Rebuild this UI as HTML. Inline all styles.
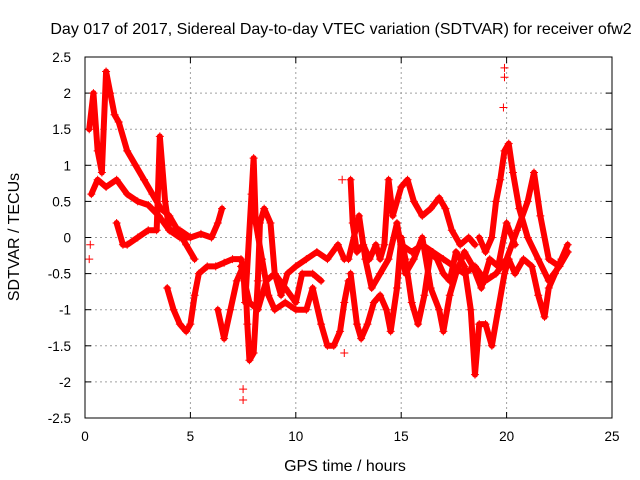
<!DOCTYPE html>
<html><head><meta charset="utf-8"><style>
body{margin:0;background:#fff;}
svg{display:block;font-family:"Liberation Sans",sans-serif;}
</style></head><body>
<svg id="chart" width="640" height="480">
<rect width="640" height="480" fill="#fff"/>
<text x="341" y="34" font-size="16" text-anchor="middle">Day 017 of 2017, Sidereal Day-to-day VTEC variation (SDTVAR) for receiver ofw2</text>
<text x="345" y="471" font-size="16" text-anchor="middle">GPS time / hours</text>
<text x="0" y="0" font-size="16" text-anchor="middle" transform="translate(19,237) rotate(-90)">SDTVAR / TECUs</text>
<g id="grid"></g>
<g id="ticks"></g>
<g id="series"></g>
<rect x="85" y="57" width="527" height="361" fill="none" stroke="#000" stroke-width="1"/>
</svg>
<script>
const xTicks=[0,5,10,15,20,25];
const yTicks=[2.5,2,1.5,1,0.5,0,-0.5,-1,-1.5,-2,-2.5];
const yTickLabels=["2.5","2","1.5","1","0.5","0","-0.5","-1","-1.5","-2","-2.5"];
const track1=[[0.2,1.5],[0.4,2.0],[0.6,1.2],[0.8,0.9],[1.0,2.3],[1.2,2.0],[1.4,1.7],[1.6,1.6],[2.0,1.2],[2.4,1.0],[2.8,0.8],[3.2,0.6],[3.6,0.4],[4.0,0.3],[4.4,0.1],[4.8,-0.1],[5.2,-0.3]];
const track2=[[0.3,0.6],[0.6,0.8],[1.0,0.7],[1.5,0.8],[2.0,0.6],[2.5,0.5],[3.0,0.45],[3.5,0.3],[4.0,0.1],[4.5,0.0],[5.0,0.0],[5.5,0.05],[6.0,0.0],[6.3,0.2],[6.5,0.4]];
const track3=[[1.5,0.2],[1.8,-0.1],[2.0,-0.1],[2.5,0.0],[3.0,0.1],[3.4,0.1],[3.55,1.4],[3.8,0.5],[4.0,0.1],[4.5,0.1],[5.0,0.0]];
const track4=[[3.9,-0.7],[4.2,-1.0],[4.5,-1.2],[4.8,-1.3],[5.0,-1.2],[5.2,-0.8],[5.4,-0.5],[5.8,-0.4],[6.2,-0.4],[6.6,-0.35],[7.0,-0.3],[7.4,-0.3],[7.6,-0.5],[7.7,-1.2],[7.8,-1.7],[8.0,-1.6],[8.2,-0.6],[8.3,0.2],[8.5,0.4],[8.8,0.2],[9.0,-0.5],[9.3,-0.8],[9.6,-0.5],[10.0,-0.4],[10.5,-0.3],[11.0,-0.2],[11.5,-0.3],[12.0,-0.1],[12.3,-0.3]];
const track5=[[6.3,-1.0],[6.6,-1.4],[6.9,-1.0],[7.2,-0.6],[7.5,-0.4],[7.6,-0.9],[7.9,0.6],[8.0,1.1],[8.1,0.2],[8.4,-0.3],[8.7,-0.8],[9.0,-1.0],[9.5,-0.9],[10.0,-1.0],[10.5,-1.0],[10.8,-0.7],[11.2,-1.2],[11.5,-1.5],[11.8,-1.5],[12.1,-1.3],[12.3,-0.9],[12.5,-0.6]];
const track6=[[7.4,-0.4],[7.8,-0.9],[8.2,-1.0],[8.6,-0.6],[9.0,-0.5],[9.5,-0.7],[10.0,-0.9],[10.3,-0.5],[10.8,-0.5],[11.2,-0.6]];
const track7=[[12.6,0.8],[12.7,0.2],[12.9,-0.2],[13.2,-0.1],[13.5,-0.3],[13.8,-0.1],[14.0,-0.3],[14.2,-0.1],[14.4,0.8],[14.6,0.3],[15.0,0.7],[15.3,0.8],[15.6,0.5],[16.0,0.3],[16.4,0.4],[16.8,0.55],[17.1,0.4],[17.4,0.1],[17.8,-0.1],[18.2,0.0],[18.5,-0.1]];
const track8=[[12.6,-0.5],[12.9,-1.2],[13.1,-1.4],[13.4,-1.2],[13.7,-0.9],[14.0,-0.8],[14.3,-1.0],[14.5,-1.3],[14.8,-0.7],[15.0,0.0],[15.2,-0.3],[15.5,-0.9],[15.8,-1.2],[16.1,-0.8],[16.4,-0.2],[16.7,-0.3],[17.0,-0.5],[17.3,-0.6],[17.6,-0.2],[18.0,-0.4],[18.3,-1.0],[18.5,-1.9],[18.7,-1.2],[19.0,-1.2],[19.3,-1.5],[19.6,-1.0],[19.9,-0.5],[20.1,-0.3],[20.4,-0.5],[20.8,-0.3],[21.2,-0.4],[21.5,-0.8],[21.8,-1.1],[22.0,-0.7],[22.3,-0.5],[22.6,-0.3],[22.9,-0.1]];
const track9=[[15.0,-0.1],[15.5,-0.2],[16.0,-0.1],[16.5,-0.2],[17.0,-0.3],[17.5,-0.4],[18.0,-0.5],[18.5,-0.4],[19.0,-0.6],[19.5,-0.5],[20.0,-0.3],[20.5,0.1],[21.0,0.5],[21.3,0.9],[21.6,0.3],[22.0,-0.3],[22.5,-0.4],[22.9,-0.2]];
const track10=[[18.7,0.0],[19.0,-0.2],[19.3,0.0],[19.5,0.5],[19.7,0.8],[19.9,1.2],[20.1,1.3],[20.3,0.9],[20.6,0.4],[21.0,0.0],[21.5,-0.3],[22.0,-0.6],[22.5,-0.4],[22.9,-0.2]];
const track11=[[12.5,-0.3],[13.0,0.3],[13.3,-0.3],[13.6,-0.7],[14.0,-0.5],[14.4,-0.3],[14.8,0.2],[15.2,-0.5],[15.6,-0.3],[16.0,0.0],[16.4,-0.7],[16.8,-1.0],[17.0,-1.3],[17.3,-0.8],[17.6,-0.5],[18.0,-0.2],[18.4,-0.4],[18.8,-0.7],[19.2,-0.3],[19.6,-0.4],[20.0,0.2],[20.4,-0.1]];
const outliers=[[19.9,2.35],[19.9,2.22],[19.85,1.8],[7.5,-2.25],[7.5,-2.1],[12.3,-1.6],[12.2,0.8],[0.2,-0.3],[0.25,-0.1]];
const tracks=[track1,track2,track3,track4,track5,track6,track7,track8,track9,track10,track11];

const X0=85,X1=612,Y0=418,Y1=57;
const xs=v=>X0+(v-0)/(25-0)*(X1-X0);
const ys=v=>Y0-(v+2.5)/5*(Y0-Y1);
const NS="http://www.w3.org/2000/svg";
const grid=document.getElementById('grid'),ticks=document.getElementById('ticks'),ser=document.getElementById('series');
function mk(tag,attrs,parent){const e=document.createElementNS(NS,tag);for(const k in attrs)e.setAttribute(k,attrs[k]);parent.appendChild(e);return e;}
xTicks.forEach(t=>{
  const x=xs(t);
  if(t>0&&t<25){const g=mk('line',{x1:x,x2:x,y1:Y1,y2:Y0,stroke:'#a0a0a0','stroke-dasharray':'2,3'},grid);
  
  }
  mk('line',{x1:x,x2:x,y1:Y0,y2:Y0-6,stroke:'#000'},ticks);
  mk('line',{x1:x,x2:x,y1:Y1,y2:Y1+6,stroke:'#000'},ticks);
  const l=mk('text',{x:x,y:Y0+23,'font-size':'13.5','text-anchor':'middle'},ticks);l.textContent=String(t);
  
  
});
yTicks.forEach((t,i)=>{
  const y=ys(t);
  if(i>0&&i<yTicks.length-1){const g=mk('line',{x1:X0,x2:X1,y1:y,y2:y,stroke:'#a0a0a0','stroke-dasharray':'2,3'},grid);
  
  }
  mk('line',{x1:X0,x2:X0+6,y1:y,y2:y,stroke:'#000'},ticks);
  mk('line',{x1:X1,x2:X1-6,y1:y,y2:y,stroke:'#000'},ticks);
  const l=mk('text',{x:X0-14,y:y+5,'font-size':'13.5','text-anchor':'end'},ticks);l.textContent=yTickLabels[i];
  
  
});
function cross(x,y){mk('path',{d:`M${x-4},${y}h8M${x},${y-4}v8`,stroke:'#f00','stroke-width':'1',fill:'none'},ser);}
tracks.forEach(tr=>{
  const p=mk('polyline',{points:tr.map(d=>xs(d[0])+','+ys(d[1])).join(' '),fill:'none',stroke:'#f00','stroke-width':'6','stroke-linejoin':'round','stroke-linecap':'round'},ser);
  
  
  tr.forEach(d=>cross(xs(d[0]),ys(d[1])));
});
outliers.forEach(d=>cross(xs(d[0]),ys(d[1])));
</script>
</body></html>
